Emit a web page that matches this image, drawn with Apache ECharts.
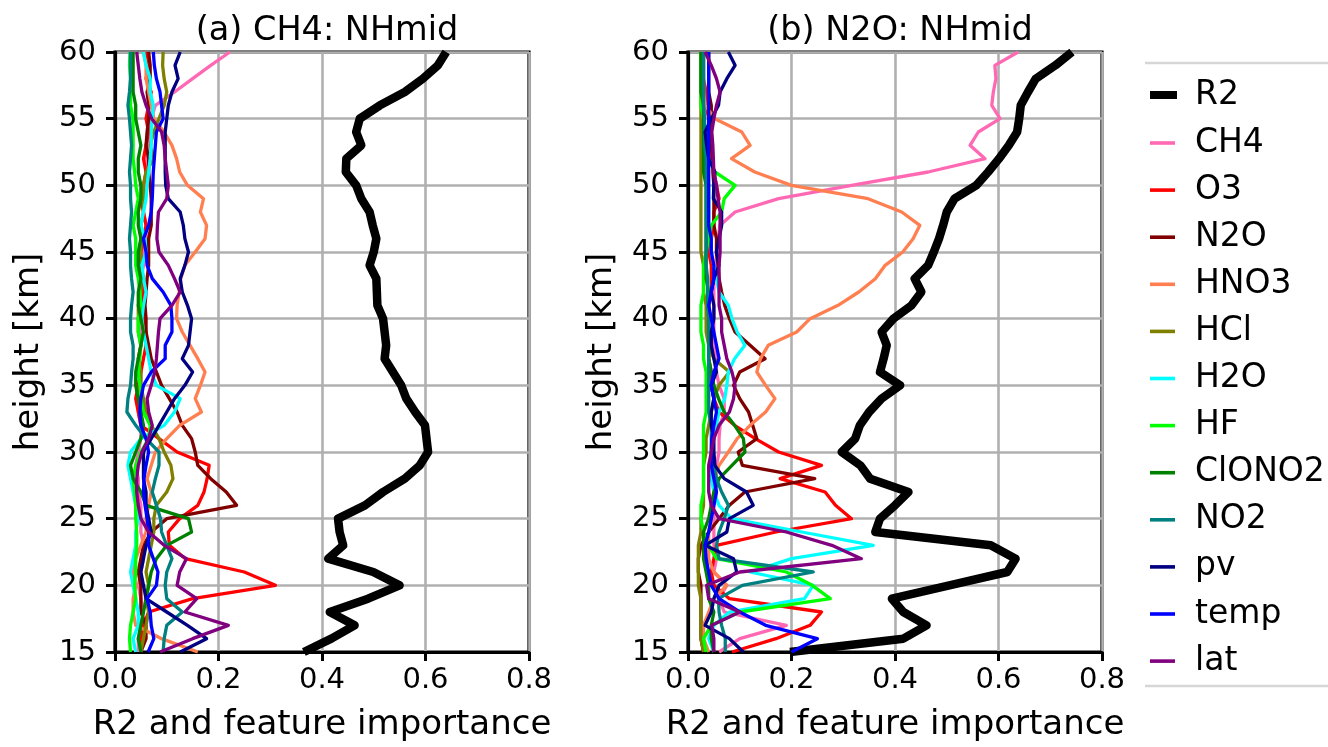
<!DOCTYPE html>
<html>
<head>
<meta charset="utf-8">
<script src="https://cdn.jsdelivr.net/npm/echarts@6/dist/echarts.min.js"></script>
<style>html,body{margin:0;padding:0;background:#fff}#c{width:1328px;height:747px}</style>
</head>
<body>
<div id="c"></div>
<script>
// heights (km), 15..60
const heights = [15,16,17,18,19,20,21,22,23,24,25,26,27,28,29,30,31,32,33,34,35,36,37,38,39,40,41,42,43,44,45,46,47,48,49,50,51,52,53,54,55,56,57,58,59,60];
const seriesNames = ['R2','CH4','O3','N2O','HNO3','HCl','H2O','HF','ClONO2','NO2','pv','temp','lat'];
const xTicks = [0.0,0.2,0.4,0.6,0.8];
const yTicks = [15,20,25,30,35,40,45,50,55,60];
const panelTitles = ['(a) CH4: NHmid','(b) N2O: NHmid'];

// ---- panel (a) CH4: NHmid ----
const a_R2     = [0.365,0.418,0.463,0.415,0.489,0.550,0.499,0.412,0.441,0.434,0.431,0.483,0.518,0.560,0.589,0.605,0.602,0.599,0.580,0.563,0.553,0.537,0.521,0.524,0.521,0.518,0.507,0.506,0.505,0.492,0.500,0.505,0.498,0.492,0.476,0.466,0.446,0.447,0.476,0.466,0.473,0.512,0.560,0.595,0.624,0.640];
const a_CH4    = [0.045,0.045,0.050,0.055,0.050,0.045,0.050,0.055,0.055,0.050,0.050,0.050,0.045,0.045,0.040,0.045,0.050,0.050,0.045,0.045,0.050,0.050,0.045,0.050,0.050,0.055,0.055,0.050,0.050,0.055,0.055,0.060,0.060,0.055,0.055,0.060,0.060,0.060,0.065,0.065,0.070,0.078,0.115,0.150,0.185,0.222];
const a_O3     = [0.050,0.050,0.055,0.065,0.150,0.310,0.250,0.136,0.105,0.103,0.125,0.160,0.172,0.178,0.182,0.120,0.085,0.050,0.045,0.040,0.045,0.050,0.055,0.060,0.060,0.055,0.050,0.055,0.055,0.050,0.050,0.055,0.060,0.055,0.050,0.055,0.060,0.055,0.060,0.065,0.060,0.065,0.070,0.060,0.065,0.060];
const a_N2O    = [0.050,0.060,0.060,0.050,0.050,0.050,0.045,0.050,0.055,0.070,0.100,0.235,0.215,0.185,0.160,0.155,0.148,0.130,0.120,0.105,0.090,0.080,0.070,0.065,0.060,0.060,0.058,0.060,0.062,0.065,0.065,0.065,0.070,0.070,0.070,0.068,0.065,0.065,0.060,0.062,0.065,0.065,0.062,0.068,0.068,0.065];
const a_HNO3   = [0.160,0.090,0.040,0.035,0.035,0.040,0.035,0.040,0.050,0.060,0.060,0.065,0.070,0.062,0.070,0.078,0.100,0.125,0.167,0.155,0.165,0.174,0.160,0.145,0.130,0.119,0.120,0.124,0.127,0.135,0.155,0.174,0.177,0.165,0.171,0.140,0.125,0.119,0.110,0.095,0.075,0.070,0.065,0.060,0.060,0.055];
const a_HCl    = [0.050,0.055,0.060,0.065,0.060,0.065,0.060,0.065,0.070,0.075,0.075,0.080,0.100,0.112,0.108,0.095,0.085,0.070,0.060,0.055,0.050,0.050,0.045,0.050,0.045,0.045,0.045,0.050,0.050,0.050,0.050,0.050,0.050,0.055,0.055,0.055,0.060,0.075,0.068,0.075,0.085,0.095,0.100,0.095,0.092,0.093];
const a_H2O    = [0.040,0.035,0.045,0.045,0.040,0.035,0.030,0.035,0.040,0.040,0.045,0.040,0.035,0.030,0.025,0.030,0.050,0.095,0.115,0.126,0.080,0.070,0.065,0.060,0.055,0.052,0.055,0.060,0.055,0.052,0.060,0.058,0.050,0.055,0.060,0.062,0.065,0.068,0.070,0.070,0.072,0.074,0.068,0.068,0.060,0.055];
const a_HF     = [0.030,0.028,0.030,0.035,0.040,0.038,0.040,0.040,0.042,0.042,0.040,0.040,0.038,0.035,0.040,0.050,0.065,0.068,0.055,0.050,0.048,0.045,0.048,0.050,0.045,0.045,0.050,0.048,0.045,0.040,0.040,0.040,0.035,0.040,0.045,0.040,0.038,0.035,0.035,0.035,0.035,0.030,0.030,0.030,0.028,0.029];
const a_ClONO2 = [0.050,0.045,0.050,0.055,0.060,0.065,0.070,0.080,0.100,0.148,0.142,0.060,0.050,0.035,0.030,0.040,0.050,0.055,0.050,0.045,0.040,0.040,0.045,0.050,0.055,0.050,0.045,0.045,0.050,0.045,0.045,0.050,0.045,0.045,0.050,0.050,0.045,0.045,0.050,0.045,0.040,0.040,0.035,0.035,0.035,0.035];
const a_NO2    = [0.093,0.095,0.100,0.130,0.100,0.097,0.100,0.110,0.100,0.090,0.088,0.080,0.072,0.078,0.085,0.085,0.060,0.040,0.023,0.025,0.030,0.032,0.035,0.035,0.030,0.030,0.032,0.035,0.032,0.030,0.030,0.028,0.030,0.032,0.030,0.030,0.028,0.030,0.032,0.030,0.028,0.025,0.028,0.030,0.030,0.030];
const a_pv     = [0.126,0.177,0.140,0.100,0.060,0.055,0.050,0.055,0.060,0.070,0.065,0.060,0.060,0.055,0.055,0.055,0.070,0.085,0.100,0.115,0.135,0.150,0.130,0.142,0.145,0.148,0.140,0.130,0.126,0.135,0.142,0.135,0.132,0.126,0.103,0.098,0.097,0.097,0.097,0.097,0.100,0.103,0.110,0.122,0.116,0.126];
const a_temp   = [0.064,0.075,0.070,0.068,0.062,0.080,0.083,0.074,0.065,0.065,0.062,0.058,0.055,0.056,0.060,0.065,0.060,0.050,0.048,0.050,0.055,0.070,0.097,0.097,0.110,0.110,0.108,0.093,0.072,0.062,0.060,0.055,0.065,0.070,0.072,0.073,0.074,0.076,0.078,0.080,0.093,0.090,0.087,0.080,0.076,0.074];
const a_lat    = [0.087,0.150,0.219,0.135,0.158,0.120,0.125,0.138,0.095,0.065,0.050,0.045,0.042,0.042,0.045,0.052,0.065,0.072,0.065,0.062,0.070,0.077,0.080,0.082,0.084,0.087,0.110,0.126,0.115,0.103,0.085,0.081,0.082,0.084,0.100,0.103,0.100,0.097,0.095,0.090,0.071,0.060,0.052,0.048,0.045,0.042];

// ---- panel (b) N2O: NHmid ----
const b_R2     = [0.197,0.416,0.461,0.416,0.394,0.505,0.617,0.633,0.585,0.362,0.371,0.400,0.426,0.352,0.333,0.297,0.323,0.332,0.350,0.374,0.410,0.371,0.378,0.384,0.374,0.397,0.432,0.451,0.438,0.464,0.475,0.485,0.493,0.500,0.515,0.557,0.580,0.601,0.620,0.636,0.640,0.643,0.657,0.672,0.710,0.742];
const b_CH4    = [0.060,0.100,0.190,0.070,0.060,0.075,0.050,0.055,0.050,0.050,0.050,0.050,0.055,0.055,0.055,0.060,0.060,0.062,0.070,0.070,0.060,0.055,0.055,0.050,0.050,0.050,0.050,0.050,0.050,0.055,0.055,0.058,0.062,0.091,0.175,0.316,0.464,0.574,0.545,0.561,0.603,0.587,0.590,0.595,0.593,0.638];
const b_O3     = [0.085,0.170,0.236,0.258,0.080,0.050,0.045,0.050,0.055,0.170,0.316,0.285,0.265,0.178,0.258,0.175,0.130,0.090,0.060,0.050,0.045,0.045,0.040,0.040,0.040,0.040,0.040,0.045,0.045,0.045,0.040,0.045,0.050,0.050,0.060,0.055,0.050,0.045,0.045,0.040,0.040,0.035,0.035,0.030,0.030,0.030];
const b_N2O    = [0.030,0.025,0.025,0.025,0.025,0.025,0.020,0.020,0.025,0.040,0.060,0.080,0.110,0.245,0.105,0.097,0.133,0.125,0.117,0.100,0.088,0.100,0.149,0.120,0.091,0.080,0.071,0.065,0.060,0.058,0.055,0.055,0.050,0.050,0.050,0.050,0.048,0.048,0.045,0.045,0.045,0.045,0.040,0.040,0.040,0.040];
const b_HNO3   = [0.040,0.030,0.030,0.040,0.050,0.075,0.050,0.040,0.040,0.040,0.045,0.045,0.050,0.052,0.060,0.078,0.095,0.120,0.150,0.168,0.150,0.133,0.140,0.155,0.210,0.236,0.290,0.330,0.362,0.381,0.415,0.435,0.448,0.413,0.348,0.200,0.129,0.084,0.120,0.104,0.052,0.033,0.030,0.030,0.030,0.030];
const b_HCl    = [0.030,0.025,0.025,0.025,0.025,0.020,0.020,0.020,0.020,0.025,0.025,0.030,0.030,0.030,0.030,0.035,0.035,0.040,0.045,0.050,0.060,0.080,0.050,0.040,0.035,0.035,0.035,0.030,0.030,0.030,0.025,0.025,0.025,0.025,0.025,0.025,0.025,0.025,0.025,0.025,0.025,0.025,0.025,0.025,0.025,0.025];
const b_H2O    = [0.050,0.040,0.050,0.080,0.225,0.242,0.120,0.200,0.358,0.220,0.084,0.060,0.050,0.045,0.045,0.045,0.050,0.055,0.060,0.071,0.075,0.078,0.090,0.110,0.095,0.085,0.078,0.060,0.055,0.050,0.045,0.045,0.040,0.040,0.040,0.040,0.035,0.035,0.035,0.035,0.030,0.030,0.030,0.030,0.030,0.030];
const b_HF     = [0.035,0.030,0.045,0.100,0.275,0.240,0.190,0.055,0.040,0.030,0.025,0.025,0.030,0.030,0.030,0.030,0.030,0.030,0.035,0.035,0.035,0.035,0.030,0.030,0.025,0.025,0.025,0.030,0.030,0.030,0.035,0.040,0.045,0.065,0.070,0.091,0.052,0.040,0.035,0.030,0.030,0.025,0.025,0.025,0.025,0.025];
const b_ClONO2 = [0.050,0.045,0.045,0.050,0.040,0.040,0.035,0.030,0.030,0.030,0.040,0.045,0.050,0.060,0.085,0.110,0.107,0.090,0.070,0.059,0.050,0.045,0.040,0.040,0.040,0.040,0.040,0.040,0.035,0.035,0.035,0.035,0.035,0.035,0.035,0.035,0.030,0.030,0.030,0.030,0.030,0.030,0.025,0.025,0.025,0.025];
const b_NO2    = [0.072,0.072,0.065,0.060,0.059,0.105,0.242,0.060,0.055,0.060,0.070,0.078,0.065,0.055,0.050,0.045,0.045,0.045,0.040,0.040,0.040,0.040,0.040,0.040,0.040,0.040,0.038,0.038,0.038,0.035,0.035,0.035,0.035,0.035,0.035,0.035,0.035,0.035,0.032,0.032,0.032,0.030,0.030,0.030,0.030,0.030];
const b_pv     = [0.107,0.080,0.033,0.045,0.050,0.060,0.094,0.088,0.033,0.075,0.080,0.126,0.113,0.070,0.052,0.050,0.050,0.045,0.045,0.050,0.045,0.055,0.050,0.045,0.045,0.050,0.050,0.045,0.050,0.060,0.055,0.060,0.065,0.065,0.049,0.050,0.052,0.040,0.036,0.033,0.045,0.059,0.062,0.075,0.091,0.078];
const b_temp   = [0.200,0.250,0.150,0.100,0.060,0.045,0.040,0.035,0.033,0.040,0.045,0.050,0.055,0.050,0.045,0.045,0.046,0.050,0.055,0.050,0.045,0.050,0.060,0.055,0.050,0.045,0.040,0.045,0.050,0.050,0.045,0.045,0.040,0.040,0.040,0.040,0.040,0.040,0.040,0.040,0.040,0.040,0.040,0.040,0.040,0.040];
const b_lat    = [0.050,0.050,0.046,0.100,0.040,0.036,0.100,0.335,0.278,0.190,0.060,0.045,0.040,0.040,0.040,0.045,0.050,0.060,0.080,0.088,0.091,0.085,0.075,0.070,0.065,0.065,0.060,0.060,0.060,0.060,0.062,0.062,0.062,0.062,0.058,0.055,0.050,0.049,0.048,0.046,0.050,0.055,0.062,0.055,0.045,0.033];

const colors = {R2:'#000000',CH4:'#ff69b4',O3:'#ff0000',N2O:'#800000',HNO3:'#ff7f50',HCl:'#808000',H2O:'#00ffff',HF:'#00ff00',ClONO2:'#008000',NO2:'#008080',pv:'#000080',temp:'#0000ff',lat:'#800080'};
const panelData = [
  {R2:a_R2,CH4:a_CH4,O3:a_O3,N2O:a_N2O,HNO3:a_HNO3,HCl:a_HCl,H2O:a_H2O,HF:a_HF,ClONO2:a_ClONO2,NO2:a_NO2,pv:a_pv,temp:a_temp,lat:a_lat},
  {R2:b_R2,CH4:b_CH4,O3:b_O3,N2O:b_N2O,HNO3:b_HNO3,HCl:b_HCl,H2O:b_H2O,HF:b_HF,ClONO2:b_ClONO2,NO2:b_NO2,pv:b_pv,temp:b_temp,lat:b_lat}
];

const FONT = 'DejaVu Sans';
const gridLefts = [115, 688];
const PW = 414, PT = 52, PH = 602;

const series = [];
panelData.forEach((pd, p) => {
  seriesNames.forEach(name => {
    const vals = pd[name];
    series.push({
      type: 'line', name: name, xAxisIndex: p, yAxisIndex: p,
      data: heights.map((h, i) => [vals[i], h]),
      symbol: 'none', showSymbol: false, silent: true,
      lineStyle: {color: colors[name], width: name === 'R2' ? 8.5 : 3.3, join: 'round'},
      itemStyle: {color: colors[name]},
      z: 3
    });
  });
});

const xAxisBase = (p) => ({
  type: 'value', gridIndex: p, min: 0, max: 0.8, interval: 0.2,
  name: 'R2 and feature importance', nameLocation: 'middle', nameGap: 56,
  nameTextStyle: {fontSize: 34, color: '#000', fontFamily: FONT},
  axisLine: {show: true, lineStyle: {color: '#000', width: 3.2}},
  axisTick: {show: true, length: 9, lineStyle: {color: '#000', width: 3}},
  axisLabel: {fontSize: 29, color: '#000', fontFamily: FONT, margin: 14, formatter: v => v.toFixed(1)},
  splitLine: {show: true, lineStyle: {color: '#b0b0b0', width: 2.6}}
});
const yAxisBase = (p) => ({
  type: 'value', gridIndex: p, min: 15, max: 60, interval: 5,
  name: 'height [km]', nameLocation: 'middle', nameGap: 69,
  nameTextStyle: {fontSize: 34, color: '#000', fontFamily: FONT},
  axisLine: {show: true, lineStyle: {color: '#000', width: 3.2}},
  axisTick: {show: true, length: 9, lineStyle: {color: '#000', width: 3}},
  axisLabel: {fontSize: 29, color: '#000', fontFamily: FONT, margin: 19},
  splitLine: {show: true, lineStyle: {color: '#b0b0b0', width: 2.6}}
});

const legendCommon = {
  orient: 'vertical', left: 1145, icon: 'rect',
  textStyle: {fontSize: 33, color: '#000', fontFamily: FONT, lineHeight: 38, padding: [0, 0, 0, 15]},
  itemGap: 9.1, selectedMode: false, inactiveColor: '#000'
};

const option = {
  animation: false,
  backgroundColor: '#fff',
  textStyle: {fontFamily: FONT},
  title: panelTitles.map((t, p) => ({
    text: t, left: gridLefts[p] + PW / 2, top: 9, textAlign: 'center',
    textStyle: {fontSize: 33.5, fontWeight: 'normal', color: '#000', fontFamily: FONT}
  })),
  grid: gridLefts.map(l => ({left: l, top: PT, width: PW, height: PH, show: true, borderColor: '#000', borderWidth: 3.2, backgroundColor: 'transparent', containLabel: false})),
  xAxis: [xAxisBase(0), xAxisBase(1)],
  yAxis: [yAxisBase(0), yAxisBase(1)],
  legend: [
    Object.assign({}, legendCommon, {data: ['R2'], top: 71, itemWidth: 27, itemHeight: 8, textStyle: Object.assign({}, legendCommon.textStyle, {padding: [0, 0, 0, 13]})}),
    Object.assign({}, legendCommon, {data: seriesNames.slice(1), top: 119, itemWidth: 25, itemHeight: 3.6})
  ],
  graphic: [
    {type: 'line', silent: true, shape: {x1: 1145, y1: 63, x2: 1328, y2: 63}, style: {stroke: '#d6d6d6', lineWidth: 2.5}},
    {type: 'line', silent: true, shape: {x1: 1145, y1: 686, x2: 1328, y2: 686}, style: {stroke: '#d6d6d6', lineWidth: 2.5}}
  ],
  series: series
};

const chart = echarts.init(document.getElementById('c'), null, {renderer: 'canvas'});
chart.setOption(option);
</script>
</body>
</html>
